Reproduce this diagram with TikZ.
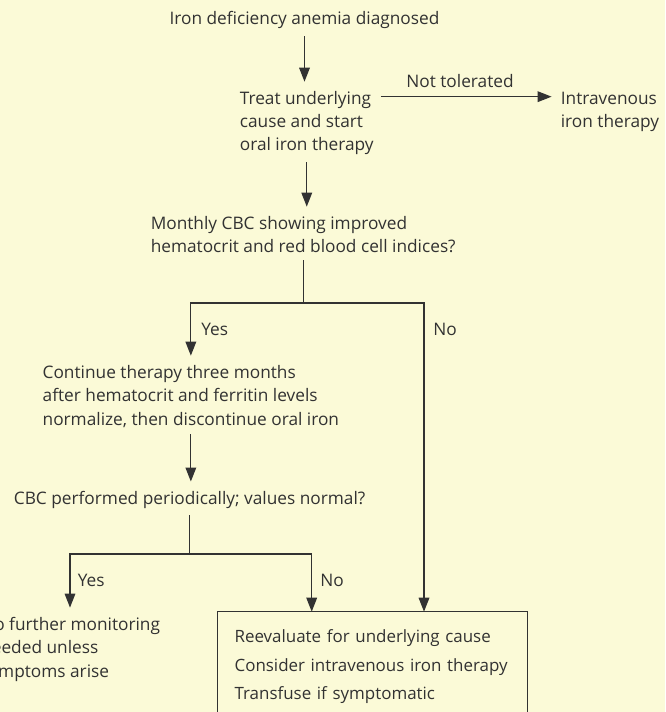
\documentclass[tikz,border=0pt]{standalone}
\usepackage{fontspec}
\setmainfont{Open Sans}
\usetikzlibrary{positioning,calc,arrows.meta}
\definecolor{bgyellow}{RGB}{251,250,215}
\definecolor{inkgray}{RGB}{50,50,50}

\begin{document}
\begin{tikzpicture}[x=0.75pt, y=-0.75pt,
		txt/.style={inner sep=0pt, text=inkgray, font=\fontsize{12.95}{17.6}\selectfont},
		line/.style={draw=inkgray, line width=0.9pt},
		stem/.style={line, shorten <=5.25pt},
		feed/.style={line, -{Triangle[length=10.5pt,width=8pt]}},
		branch/.style={feed, shorten >=6.75pt},
		link/.style={branch, shorten <=5.25pt},
		resultbox/.style={draw=inkgray, line width=0.9pt, anchor=north west, align=left, text width=207pt, inner xsep=12.75pt, inner ysep=13.5pt, outer sep=0pt, text=inkgray, font=\fontsize{12.7}{21.4}\selectfont}]
		\useasboundingbox (0,0) rectangle (665,712);
		\fill[bgyellow] (0,0) rectangle (665,712);
		\clip (0,0) rectangle (665,712);
		\node[txt, anchor=base] (diag) at (304.5,25) {Iron deficiency anemia diagnosed};
		\node[txt, anchor=base west, align=left] (treat) at (239.6,151) {Treat underlying\\cause and start\\oral iron therapy};
		\node[txt, anchor=base] (nottol) at (460,88) {Not tolerated};
		\node[txt, anchor=base west, align=left] (iv) at (560.6,127.5) {Intravenous\\iron therapy};
		\node[txt, anchor=base west, align=left] (monthly) at (150.5,252.5) {Monthly CBC showing improved\\hematocrit and red blood cell indices?};
		\node[txt, anchor=base west] (yes1) at (201,335) {Yes};
		\node[txt, anchor=base west] (no1) at (433,335) {No};
		\node[txt, anchor=base west, align=left] (cont) at (42.4,425) {Continue therapy three months\\after hematocrit and ferritin levels\\normalize, then discontinue oral iron};
		\node[txt, anchor=base west] (cbc) at (13.6,504) {CBC performed periodically; values normal?};
		\node[txt, anchor=base west] (yes2) at (77.6,586) {Yes};
		\node[txt, anchor=base west] (no2) at (320,586) {No};
		\node[txt, anchor=base west, align=left] (nofurther) at (-19,677) {No further monitoring\\needed unless\\symptoms arise};
		\node[resultbox] (reeval) at (217.6,611.7) {Reevaluate for underlying cause\\Consider intravenous iron therapy\\Transfuse if symptomatic};
		\coordinate (split1) at (304.5,303);
		\coordinate (noturn1) at (424,303);
		\coordinate (split2) at (190.8,554);
		\coordinate (yesturn2) at (70,554);
		\coordinate (noturn2) at (311.7,554);
		\draw[link] (diag.south) -- (diag.south |- treat.north);
		\draw[link] ([yshift=-4.5pt]treat.north east) -- ([yshift=-4.5pt]treat.north east -| iv.west);
		\draw[link] (treat.south) -- (treat.south |- monthly.north);
		\draw[stem] (monthly.south) -- (monthly.south |- split1);
		\draw[branch] (split1) -| (cont.north);
		\draw[feed] (split1) -- (noturn1) -- (noturn1 |- reeval.north);
		\draw[link] (cont.south) -- (cont.south |- cbc.north);
		\draw[stem] (cbc.south) -- (cbc.south |- split2);
		\draw[branch] (split2) -- (yesturn2) -- (yesturn2 |- nofurther.north);
		\draw[feed] (split2) -- (noturn2) -- (noturn2 |- reeval.north);
	\end{tikzpicture}
\end{document}
